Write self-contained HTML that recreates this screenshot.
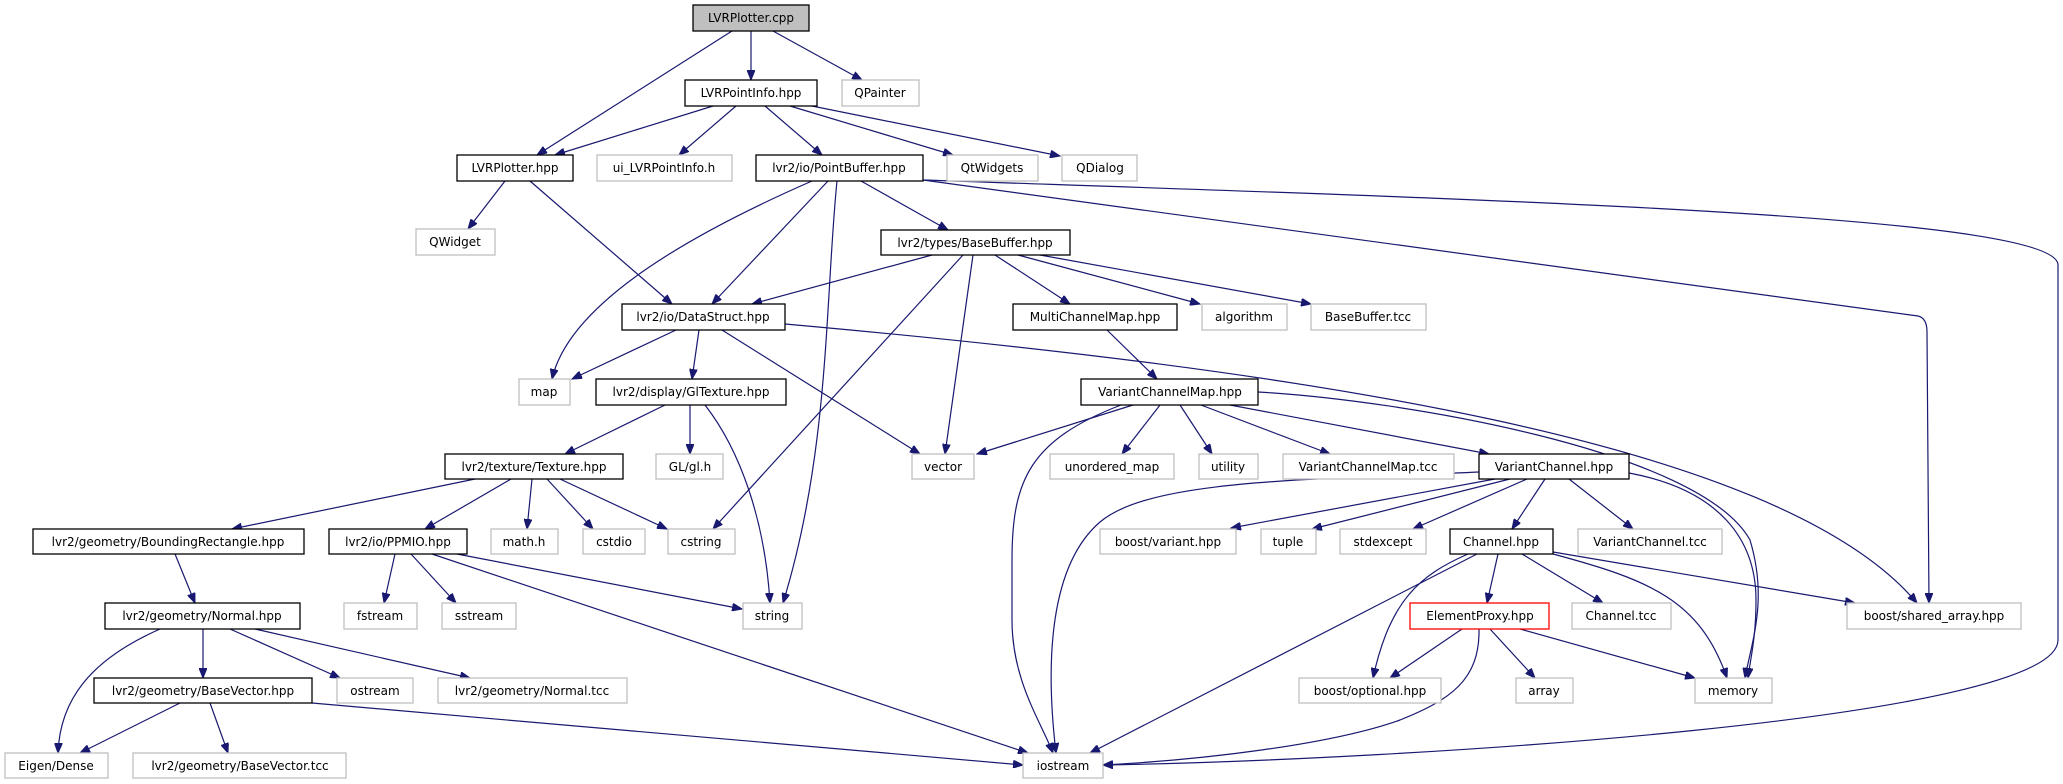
<!DOCTYPE html>
<html><head><meta charset="utf-8"><style>
html,body{margin:0;padding:0;background:#fff;}
svg{display:block;}
text{font-family:"DejaVu Sans","Liberation Sans",sans-serif;font-size:12px;fill:#000;text-anchor:middle;}
.d{fill:#fff;stroke:#000;stroke-width:1.3;}
.e{fill:#fff;stroke:#bfbfbf;stroke-width:1.3;}
.r{fill:#fff;stroke:#ff0000;stroke-width:1.3;}
.c{fill:#bfbfbf;stroke:#000;stroke-width:1.3;}
path{fill:none;stroke:#191970;stroke-width:1.2;}
</style></head><body>
<svg width="2063" height="784" viewBox="0 0 2063 784" xmlns="http://www.w3.org/2000/svg">
<defs><marker id="a" markerWidth="11" markerHeight="8" refX="10" refY="4" orient="auto" markerUnits="userSpaceOnUse"><path d="M0,0 L10,4 L0,8 Z" style="fill:#191970;stroke:#191970;stroke-width:1"/></marker></defs>
<g marker-end="url(#a)">
<path d="M732,31 L537,155"/>
<path d="M751,31 L751,80"/>
<path d="M773,31 L862,80"/>
<path d="M713,106 L555,155"/>
<path d="M736,106 L679,155"/>
<path d="M765,106 L822,155"/>
<path d="M790,106 L953,155"/>
<path d="M812,106 L1060,156"/>
<path d="M505,181 L468,229"/>
<path d="M530,181 L672,304"/>
<path d="M812,181 C700,230 570,300 552,379"/>
<path d="M828,181 L712,304"/>
<path d="M837,181 C825,300 830,450 783,603"/>
<path d="M861,181 L948,230"/>
<path d="M923,180 L1918,316 Q1927,318 1927,332 L1929,603"/>
<path d="M923,180 C1500,200 2058,215 2058,265 L2058,640 C2058,720 1400,760 1103,765"/>
<path d="M932,255 L752,304"/>
<path d="M963,255 L713,529"/>
<path d="M973,255 L945,454"/>
<path d="M995,255 L1070,304"/>
<path d="M1018,255 L1200,304"/>
<path d="M1040,255 L1311,304"/>
<path d="M676,330 L572,379"/>
<path d="M699,330 L692,379"/>
<path d="M722,330 L920,454"/>
<path d="M785,324 C1300,370 1780,440 1917,603"/>
<path d="M665,405 L565,454"/>
<path d="M690,405 L690,454"/>
<path d="M705,405 C740,450 765,520 770,603"/>
<path d="M475,479 L232,529"/>
<path d="M511,479 L425,529"/>
<path d="M532,479 L527,529"/>
<path d="M547,479 L593,529"/>
<path d="M560,479 L667,529"/>
<path d="M175,554 L195,603"/>
<path d="M395,554 L384,603"/>
<path d="M411,554 L456,603"/>
<path d="M457,554 L742,609"/>
<path d="M432,554 L1028,753"/>
<path d="M160,629 C90,660 60,700 58,753"/>
<path d="M203,629 L203,678"/>
<path d="M230,629 L340,678"/>
<path d="M255,629 L470,678"/>
<path d="M180,703 L80,753"/>
<path d="M210,703 L228,753"/>
<path d="M312,703 L1023,765"/>
<path d="M1107,330 L1157,379"/>
<path d="M1133,405 L977,454"/>
<path d="M1121,405 C1030,440 1012,480 1012,560 L1012,620 C1012,680 1040,720 1053,753"/>
<path d="M1160,405 L1122,454"/>
<path d="M1180,405 L1212,454"/>
<path d="M1201,405 L1330,454"/>
<path d="M1230,405 L1489,454"/>
<path d="M1258,392 C1400,400 1700,450 1750,540 C1768,600 1752,640 1745,678"/>
<path d="M1479,472 C1300,480 1150,480 1100,522 C1050,565 1045,660 1056,753"/>
<path d="M1495,479 L1231,528"/>
<path d="M1510,479 L1312,529"/>
<path d="M1527,479 L1413,529"/>
<path d="M1545,479 L1512,529"/>
<path d="M1569,479 L1633,529"/>
<path d="M1629,473 C1720,490 1756,540 1756,600 C1756,640 1750,660 1748,678"/>
<path d="M1468,554 C1420,575 1390,600 1373,678"/>
<path d="M1477,554 L1090,753"/>
<path d="M1498,554 L1487,603"/>
<path d="M1522,554 L1603,603"/>
<path d="M1553,554 C1650,580 1700,600 1727,678"/>
<path d="M1553,552 L1855,603"/>
<path d="M1462,629 L1390,678"/>
<path d="M1479,629 C1480,680 1450,700 1400,720 C1330,745 1200,760 1103,765"/>
<path d="M1490,629 L1535,678"/>
<path d="M1520,629 L1695,678"/>
</g>
<g>
<rect class="c" x="693" y="5" width="116" height="26"/><text x="751" y="22">LVRPlotter.cpp</text>
<rect class="d" x="685" y="80" width="132" height="26"/><text x="751" y="97">LVRPointInfo.hpp</text>
<rect class="e" x="842" y="80" width="77" height="26"/><text x="880" y="97">QPainter</text>
<rect class="d" x="457" y="155" width="116" height="26"/><text x="515" y="172">LVRPlotter.hpp</text>
<rect class="e" x="597" y="155" width="135" height="26"/><text x="664" y="172">ui_LVRPointInfo.h</text>
<rect class="d" x="756" y="155" width="167" height="26"/><text x="839" y="172">lvr2/io/PointBuffer.hpp</text>
<rect class="e" x="947" y="155" width="91" height="26"/><text x="992" y="172">QtWidgets</text>
<rect class="e" x="1062" y="155" width="75" height="26"/><text x="1100" y="172">QDialog</text>
<rect class="e" x="416" y="229" width="79" height="26"/><text x="455" y="246">QWidget</text>
<rect class="d" x="881" y="230" width="189" height="25"/><text x="975" y="247">lvr2/types/BaseBuffer.hpp</text>
<rect class="d" x="622" y="304" width="163" height="26"/><text x="703" y="321">lvr2/io/DataStruct.hpp</text>
<rect class="d" x="1013" y="304" width="164" height="26"/><text x="1095" y="321">MultiChannelMap.hpp</text>
<rect class="e" x="1202" y="304" width="85" height="26"/><text x="1244" y="321">algorithm</text>
<rect class="e" x="1311" y="304" width="115" height="26"/><text x="1368" y="321">BaseBuffer.tcc</text>
<rect class="e" x="519" y="379" width="51" height="26"/><text x="544" y="396">map</text>
<rect class="d" x="596" y="379" width="190" height="26"/><text x="691" y="396">lvr2/display/GlTexture.hpp</text>
<rect class="d" x="1081" y="379" width="177" height="26"/><text x="1170" y="396">VariantChannelMap.hpp</text>
<rect class="d" x="445" y="454" width="178" height="25"/><text x="534" y="471">lvr2/texture/Texture.hpp</text>
<rect class="e" x="656" y="454" width="67" height="25"/><text x="690" y="471">GL/gl.h</text>
<rect class="e" x="912" y="454" width="62" height="25"/><text x="943" y="471">vector</text>
<rect class="e" x="1050" y="454" width="124" height="25"/><text x="1112" y="471">unordered_map</text>
<rect class="e" x="1199" y="454" width="59" height="25"/><text x="1228" y="471">utility</text>
<rect class="e" x="1283" y="454" width="171" height="25"/><text x="1368" y="471">VariantChannelMap.tcc</text>
<rect class="d" x="1479" y="454" width="150" height="25"/><text x="1554" y="471">VariantChannel.hpp</text>
<rect class="d" x="33" y="529" width="271" height="25"/><text x="168" y="546">lvr2/geometry/BoundingRectangle.hpp</text>
<rect class="d" x="329" y="529" width="138" height="25"/><text x="398" y="546">lvr2/io/PPMIO.hpp</text>
<rect class="e" x="491" y="529" width="67" height="25"/><text x="524" y="546">math.h</text>
<rect class="e" x="583" y="529" width="62" height="25"/><text x="614" y="546">cstdio</text>
<rect class="e" x="668" y="529" width="67" height="25"/><text x="701" y="546">cstring</text>
<rect class="e" x="1100" y="529" width="136" height="25"/><text x="1168" y="546">boost/variant.hpp</text>
<rect class="e" x="1261" y="529" width="55" height="25"/><text x="1288" y="546">tuple</text>
<rect class="e" x="1340" y="529" width="86" height="25"/><text x="1383" y="546">stdexcept</text>
<rect class="d" x="1450" y="529" width="103" height="25"/><text x="1501" y="546">Channel.hpp</text>
<rect class="e" x="1578" y="529" width="144" height="25"/><text x="1650" y="546">VariantChannel.tcc</text>
<rect class="d" x="105" y="603" width="195" height="26"/><text x="202" y="620">lvr2/geometry/Normal.hpp</text>
<rect class="e" x="344" y="603" width="73" height="26"/><text x="380" y="620">fstream</text>
<rect class="e" x="442" y="603" width="74" height="26"/><text x="479" y="620">sstream</text>
<rect class="e" x="743" y="603" width="59" height="26"/><text x="772" y="620">string</text>
<rect class="r" x="1410" y="603" width="139" height="26"/><text x="1480" y="620">ElementProxy.hpp</text>
<rect class="e" x="1572" y="603" width="99" height="26"/><text x="1621" y="620">Channel.tcc</text>
<rect class="e" x="1847" y="603" width="174" height="26"/><text x="1934" y="620">boost/shared_array.hpp</text>
<rect class="d" x="94" y="678" width="218" height="25"/><text x="203" y="695">lvr2/geometry/BaseVector.hpp</text>
<rect class="e" x="337" y="678" width="76" height="25"/><text x="375" y="695">ostream</text>
<rect class="e" x="438" y="678" width="189" height="25"/><text x="532" y="695">lvr2/geometry/Normal.tcc</text>
<rect class="e" x="1299" y="678" width="142" height="25"/><text x="1370" y="695">boost/optional.hpp</text>
<rect class="e" x="1516" y="678" width="57" height="25"/><text x="1544" y="695">array</text>
<rect class="e" x="1695" y="678" width="77" height="25"/><text x="1733" y="695">memory</text>
<rect class="e" x="5" y="753" width="103" height="25"/><text x="56" y="770">Eigen/Dense</text>
<rect class="e" x="133" y="753" width="213" height="25"/><text x="240" y="770">lvr2/geometry/BaseVector.tcc</text>
<rect class="e" x="1023" y="753" width="80" height="25"/><text x="1063" y="770">iostream</text>
</g>
</svg>
</body></html>
